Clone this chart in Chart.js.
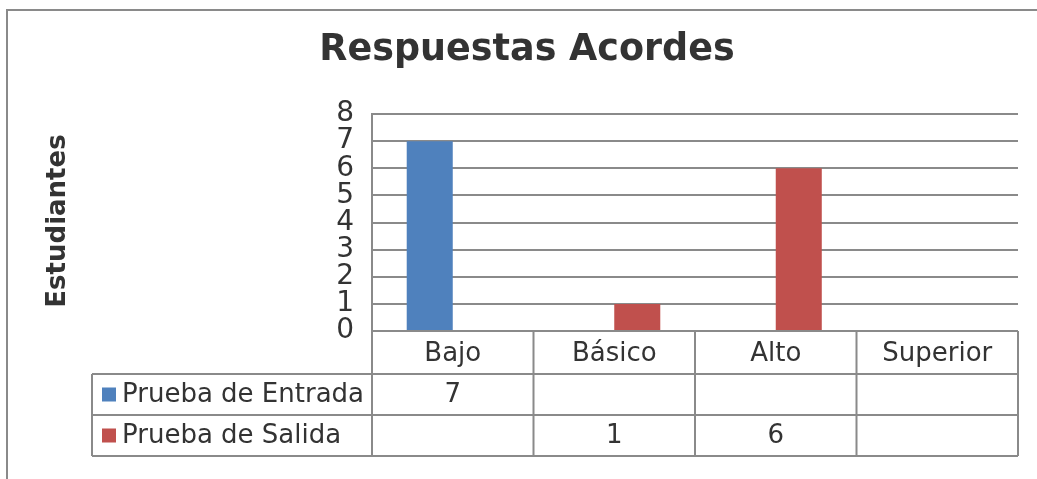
<!DOCTYPE html>
<html>
<head>
<meta charset="utf-8">
<script src="https://cdn.jsdelivr.net/npm/chart.js@4"></script>
<style>
  html, body { margin: 0; padding: 0; background: #fff; }
  #wrap { width: 1037px; height: 479px; }
</style>
</head>
<body>
<div id="wrap"><canvas id="chart" width="1037" height="479"></canvas></div>
<script>
var categories = ['Bajo', 'Básico', 'Alto', 'Superior'];
var seriesNames = ['Prueba de Entrada', 'Prueba de Salida'];
var entrada = [7, null, null, null];
var salida = [null, 1, 6, null];
var yTicks = [0, 1, 2, 3, 4, 5, 6, 7, 8];

var FONT = "'DejaVu Sans', sans-serif";
var TEXT = '#333333';
var LINE = '#8a8a8a';
var colors = ['#4F81BD', '#C0504D'];

// frame, title, axis title and the data table under the plot
var tablePlugin = {
  id: 'dataTable',
  beforeDraw: function(chart) {
    var ctx = chart.ctx;
    ctx.save();
    ctx.strokeStyle = LINE;
    ctx.lineWidth = 2;
    ctx.beginPath();
    ctx.moveTo(7, chart.height);
    ctx.lineTo(7, 10);
    ctx.lineTo(chart.width, 10);
    ctx.stroke();

    ctx.fillStyle = TEXT;
    ctx.font = 'bold 36.5px ' + FONT;
    ctx.textAlign = 'center';
    ctx.textBaseline = 'middle';
    ctx.fillText('Respuestas Acordes', 527, 51);

    ctx.font = 'bold 26px ' + FONT;
    ctx.translate(58, 221);
    ctx.rotate(-Math.PI / 2);
    ctx.fillText('Estudiantes', 0, 0);
    ctx.restore();
  },
  afterDraw: function(chart) {
    var ctx = chart.ctx;
    var x = chart.scales.x;
    var area = chart.chartArea;
    var rowH = 41;
    var top = x.bottom;
    var tableLeft = 92;
    var half = (x.getPixelForValue(1) - x.getPixelForValue(0)) / 2;

    ctx.save();
    ctx.strokeStyle = LINE;
    ctx.lineWidth = 2;
    ctx.beginPath();
    ctx.moveTo(area.left, area.bottom); ctx.lineTo(area.right, area.bottom);
    for (var r = 0; r <= seriesNames.length; r++) {
      ctx.moveTo(tableLeft, top + r * rowH);
      ctx.lineTo(area.right, top + r * rowH);
    }
    ctx.moveTo(tableLeft, top); ctx.lineTo(tableLeft, top + seriesNames.length * rowH);
    for (var i = 0; i <= categories.length; i++) {
      var px = i < categories.length ? x.getPixelForValue(i) - half : area.right;
      ctx.moveTo(px, area.bottom);
      ctx.lineTo(px, top + seriesNames.length * rowH);
    }
    ctx.stroke();

    ctx.font = '26px ' + FONT;
    ctx.textBaseline = 'middle';
    var rows = [entrada, salida];
    for (var s = 0; s < seriesNames.length; s++) {
      var cy = top + s * rowH + rowH / 2;
      ctx.fillStyle = colors[s];
      ctx.fillRect(102, cy - 7, 14, 14);
      ctx.fillStyle = TEXT;
      ctx.textAlign = 'left';
      ctx.fillText(seriesNames[s], 122, cy + 1);
      ctx.textAlign = 'center';
      for (var c = 0; c < categories.length; c++) {
        var v = rows[s][c];
        if (v !== null) ctx.fillText(String(v), x.getPixelForValue(c), cy + 1);
      }
    }
    ctx.restore();
  }
};

new Chart(document.getElementById('chart'), {
  type: 'bar',
  data: {
    labels: categories,
    datasets: [{
      label: seriesNames[0],
      data: entrada,
      backgroundColor: colors[0]
    }, {
      label: seriesNames[1],
      data: salida,
      backgroundColor: colors[1]
    }]
  },
  options: {
    responsive: false,
    animation: false,
    events: [],
    categoryPercentage: 0.57,
    barPercentage: 1.0,
    layout: { padding: { left: 0, right: 19, top: 114, bottom: 105 } },
    plugins: {
      legend: { display: false },
      tooltip: { enabled: false },
      title: { display: false }
    },
    scales: {
      x: {
        grid: { display: false, drawTicks: false },
        border: { display: false },
        ticks: { color: TEXT, font: { family: FONT, size: 26 }, padding: 8, maxRotation: 0 },
        afterFit: function(scale) { scale.height = 43; }
      },
      y: {
        min: 0,
        max: 8,
        afterBuildTicks: function(scale) {
          scale.ticks = yTicks.map(function(v) { return { value: v }; });
        },
        grid: { color: LINE, lineWidth: 2, drawTicks: false },
        border: { color: LINE, width: 2 },
        ticks: { color: TEXT, autoSkip: false, font: { family: FONT, size: 28, lineHeight: 1 }, padding: 18 },
        afterFit: function(scale) { scale.width = 372; }
      }
    }
  },
  plugins: [tablePlugin]
});
</script>
</body>
</html>
